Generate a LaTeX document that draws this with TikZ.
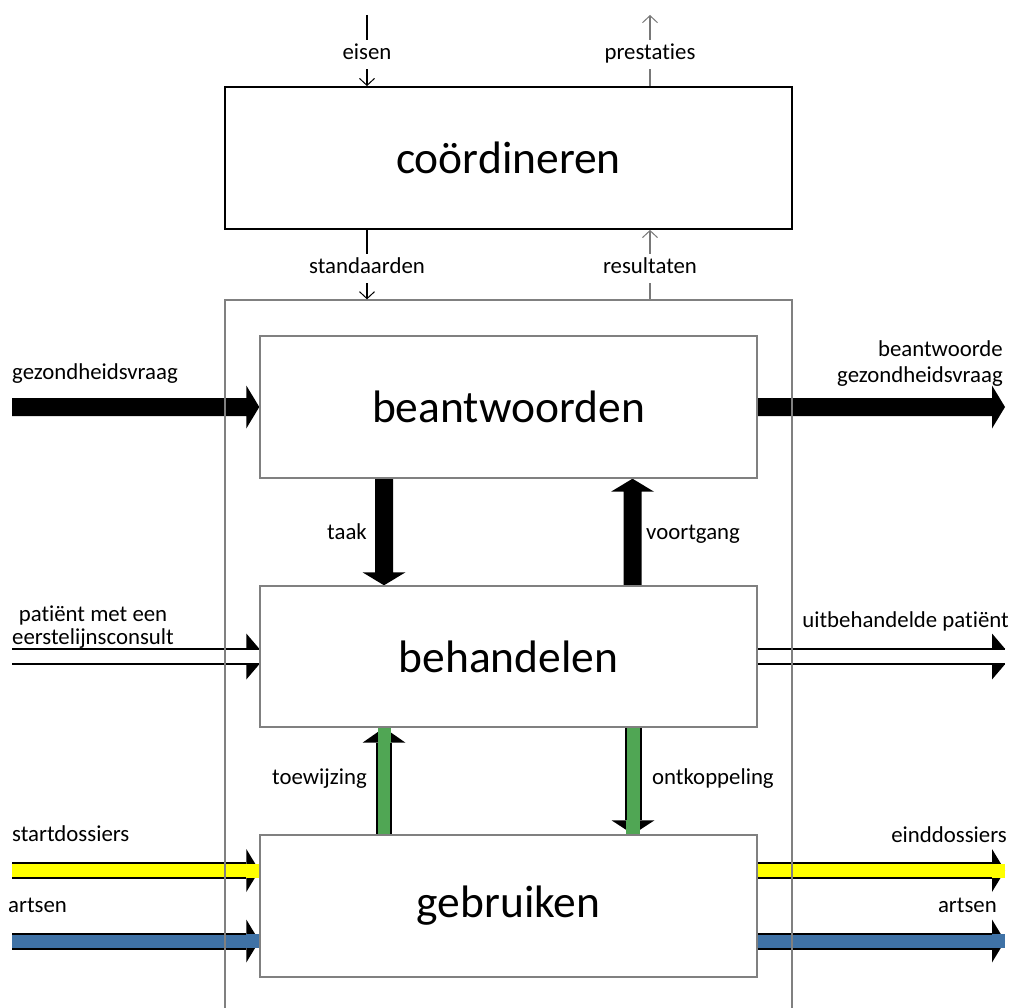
\documentclass[tikz,border=0pt]{standalone}
\usepackage{fontspec}
\setmainfont{Carlito}[Ligatures=NoCommon]
\usetikzlibrary{calc,arrows.meta}

\definecolor{boxgray}{RGB}{128,128,128}
\definecolor{flowyellow}{RGB}{255,255,0}
\definecolor{flowblue}{RGB}{63,114,166}
\definecolor{flowgreen}{RGB}{80,166,84}
\definecolor{upgray}{RGB}{120,120,120}

\pgfdeclarelayer{flows}
\pgfsetlayers{flows,main}

% solid black block arrow from #1 to the tip #2
\newcommand\solidarrow[2]{%
  \coordinate (ba-base) at ($(#2)!13pt!(#1)$);
  \fill ($(#1)!9pt!90:(#2)$) -- ($(ba-base)!9pt!90:(#2)$) -- ($(ba-base)!21.5pt!90:(#2)$) -- (#2)
     -- ($(ba-base)!21.5pt!-90:(#2)$) -- ($(ba-base)!9pt!-90:(#2)$) -- ($(#1)!9pt!-90:(#2)$) -- cycle;}

% coloured band with black rims and a black head: #1 start, #2 tip, #3 colour,
% #4 head length, #5 rim offset, #6 band half width
\newcommand\bandarrow[6]{%
  \coordinate (ba-base) at ($(#2)!#4!(#1)$);
  \fill ($(ba-base)!21.5pt!90:(#2)$) -- (#2) -- ($(ba-base)!21.5pt!-90:(#2)$) -- cycle;
  \fill[#3] ($(#1)!#6!90:(#2)$) -- ($(#2)!#6!-90:(#1)$) -- ($(#2)!#6!90:(#1)$) -- ($(#1)!#6!-90:(#2)$) -- cycle;
  \draw[line width=2pt] ($(#1)!#5!90:(#2)$) -- ($(ba-base)!#5!90:(#2)$);
  \draw[line width=2pt] ($(#1)!#5!-90:(#2)$) -- ($(ba-base)!#5!-90:(#2)$);}

% open double-line arrow with split head: #1 start, #2 tip
\newcommand\hollowarrow[2]{%
  \coordinate (ba-base) at ($(#2)!13pt!(#1)$);
  \draw[line width=2pt] ($(#1)!7.75pt!90:(#2)$) -- ($(#2)!7.75pt!-90:(#1)$);
  \draw[line width=2pt] ($(#1)!7.75pt!-90:(#2)$) -- ($(#2)!7.75pt!90:(#1)$);
  \fill ($(ba-base)!7.75pt!90:(#2)$) -- ($(ba-base)!23pt!90:(#2)$) -- ($(#2)!7.75pt!-90:(#1)$) -- cycle;
  \fill ($(ba-base)!7.75pt!-90:(#2)$) -- ($(ba-base)!23pt!-90:(#2)$) -- ($(#2)!7.75pt!90:(#1)$) -- cycle;}

\tikzset{
  process/.style={draw=boxgray, line width=1.4pt, fill=white, minimum width=497pt,
    minimum height=142pt, inner sep=0pt, font=\fontsize{45.5}{54}\selectfont},
  control/.style={process, draw=black, line width=1.8pt, minimum width=567pt},
  frame/.style={draw=boxgray, line width=1.3pt, minimum width=567pt, minimum height=730pt, inner sep=0pt},
  lbl/.style={inner sep=0pt, yshift=-3.5pt, font=\fontsize{22.8}{22.8}\selectfont},
  tag/.style={lbl, fill=white, inner xsep=2pt, inner ysep=4.5pt, text height=15pt, text depth=5pt, text=black},
  signal/.style={line width=1.1pt, -{Straight Barb[length=7pt,width=15pt,line width=1pt]}},
}

\begin{document}
\begin{tikzpicture}[x=1pt,y=-1pt]
\useasboundingbox (0,0) rectangle (1017,1008);
\clip (0,0) rectangle (1017,1008);

% enclosing frame and the process boxes
\node[frame] (frame) at (508.5,665) {};
\node[control] (coord) at (508.5,158) {coördineren};
\node[process] (beant) at (508.5,407) {beantwoorden};
\node[process, minimum height=141pt] (behan) at (508.5,656.5) {behandelen};
\node[process] (gebr) at (508.5,906) {gebruiken};

% free ends of the flows
\coordinate (gvIn) at (12,407);
\coordinate (gvOut) at (1005,407);
\coordinate (patIn) at (12,656.5);
\coordinate (patOut) at (1005,656.5);
\coordinate (ydIn) at (12,870.5);
\coordinate (ydOut) at (1005,870.5);
\coordinate (arIn) at (12,941);
\coordinate (arOut) at (1005,941);
\coordinate (gvTip) at (beant.west);
\coordinate (patTip) at (behan.west);
\coordinate (ydTip) at (gebr.west |- ydIn);
\coordinate (ydStart) at (gebr.east |- ydIn);
\coordinate (arTip) at (gebr.west |- arIn);
\coordinate (arStart) at (gebr.east |- arIn);
\coordinate (taakA) at ($(beant.south)+(-124.5,0)$);
\coordinate (taakB) at ($(behan.north)+(-124.5,0)$);
\coordinate (voortA) at ($(behan.north)+(124,0)$);
\coordinate (voortB) at ($(beant.south)+(124,0)$);
\coordinate (toewA) at ($(gebr.north)+(-124.5,0)$);
\coordinate (toewB) at ($(behan.south)+(-124.5,0)$);
\coordinate (ontkA) at ($(behan.south)+(124.5,0)$);
\coordinate (ontkB) at ($(gebr.north)+(124.5,0)$);

\begin{pgfonlayer}{flows}
  \solidarrow{gvIn}{gvTip}
  \solidarrow{beant.east}{gvOut}
  \solidarrow{taakA}{taakB}
  \solidarrow{voortA}{voortB}
  \hollowarrow{patIn}{patTip}
  \hollowarrow{behan.east}{patOut}
  \bandarrow{ydIn}{ydTip}{flowyellow}{13pt}{7.5pt}{7pt}
  \bandarrow{ydStart}{ydOut}{flowyellow}{13pt}{7.5pt}{7pt}
  \bandarrow{arIn}{arTip}{flowblue}{13pt}{7.5pt}{7pt}
  \bandarrow{arStart}{arOut}{flowblue}{13pt}{7.5pt}{7pt}
  \bandarrow{toewA}{toewB}{flowgreen}{15pt}{7pt}{6.5pt}
  \bandarrow{ontkA}{ontkB}{flowgreen}{14pt}{7.5pt}{7pt}
\end{pgfonlayer}

% control signals of the coordinating function
\coordinate (eisenTop) at (367,15);
\coordinate (prestTop) at (650,15);
\draw[signal] (eisenTop) -- (eisenTop |- coord.north) node[midway, tag] {eisen};
\draw[signal, upgray] (prestTop |- coord.north) -- (prestTop) node[midway, tag] {prestaties};
\draw[signal] (eisenTop |- coord.south) -- (eisenTop |- frame.north) node[midway, tag] {standaarden};
\draw[signal, upgray] (prestTop |- frame.north) -- (prestTop |- coord.south) node[midway, tag] {resultaten};

% flow labels
\node[lbl, anchor=mid west] (lGv) at (12,374) {gezondheidsvraag};
\node[lbl, anchor=east, align=right, font=\fontsize{22.8}{26}\selectfont] (lGvOut) at (1003,360) {beantwoorde\\gezondheidsvraag};
\node[lbl, align=center] (lPat) at (93,624) {patiënt met een\\eerstelijnsconsult};
\node[lbl, anchor=mid east] (lPatOut) at (1009,622) {uitbehandelde patiënt};
\node[lbl, anchor=mid west] (lStart) at (12,836) {startdossiers};
\node[lbl, anchor=mid west] (lArtsIn) at (8,907) {artsen};
\node[lbl, anchor=mid east] (lEind) at (1007,837) {einddossiers};
\node[lbl, anchor=mid east] (lArtsOut) at (997,907) {artsen};
\node[lbl, anchor=mid east] (lTaak) at (367,534) {taak};
\node[lbl, anchor=mid west] (lVoort) at (646,534) {voortgang};
\node[lbl, anchor=mid east] (lToew) at (367,779) {toewijzing};
\node[lbl, anchor=mid west] (lOntk) at (652,779) {ontkoppeling};
\end{tikzpicture}
\end{document}
